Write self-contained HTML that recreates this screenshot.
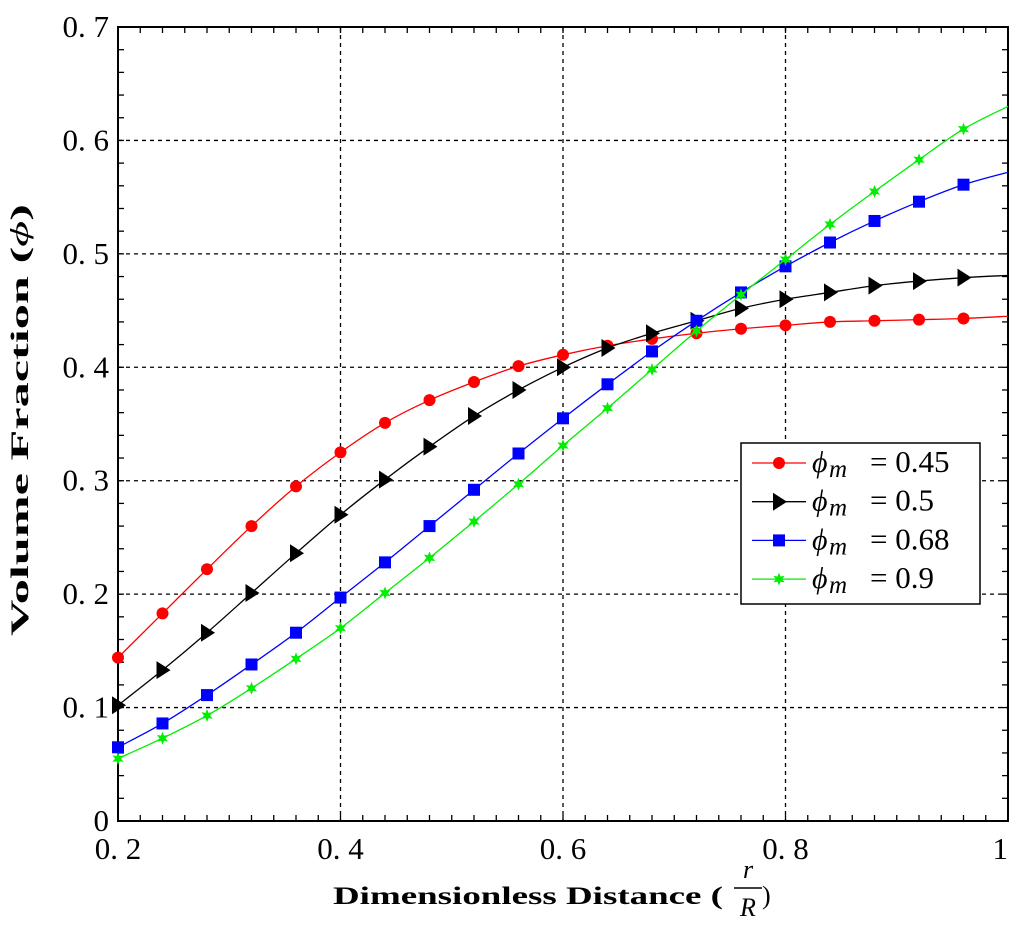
<!DOCTYPE html>
<html><head><meta charset="utf-8"><style>
body{margin:0;background:#fff;}
svg{display:block;font-family:"Liberation Serif",serif;}
</style></head><body>
<svg id="chart" width="1024" height="946" viewBox="0 0 1024 946">
<rect width="1024" height="946" fill="#fff"/>
<g id="grid"></g>
<g id="axes"></g>
<g id="series"></g>
<text x="28" y="420" transform="rotate(-90 28 420)" text-anchor="middle" font-size="25" font-weight="bold" textLength="432" lengthAdjust="spacingAndGlyphs">Volume Fraction (<tspan font-style="italic" font-weight="normal">ϕ</tspan>)</text>
<g>
<text x="333" y="904" font-size="25" font-weight="bold" textLength="390" lengthAdjust="spacingAndGlyphs">Dimensionless Distance (</text>
<text x="748" y="878" font-size="26" font-style="italic" text-anchor="middle">r</text>
<line x1="734" y1="888" x2="762" y2="888" stroke="#000" stroke-width="1.5"/>
<text x="748" y="916" font-size="26" font-style="italic" text-anchor="middle">R</text>
<text x="762" y="904" font-size="26">)</text>
</g>
<g id="legend"></g>
</svg>
<script>
const xTicks=[0.2,0.4,0.6,0.8,1.0];
const xTickLabels=["0. 2","0. 4","0. 6","0. 8","1"];
const yTicks=[0,0.1,0.2,0.3,0.4,0.5,0.6,0.7];
const yTickLabels=["0","0. 1","0. 2","0. 3","0. 4","0. 5","0. 6","0. 7"];
const xValues=[0.2,0.24,0.28,0.32,0.36,0.4,0.44,0.48,0.52,0.56,0.6,0.64,0.68,0.72,0.76,0.8,0.84,0.88,0.92,0.96,1.0];
const seriesNames=["phi-m-0.45","phi-m-0.5","phi-m-0.68","phi-m-0.9"];
const seriesLabels=["0.45","0.5","0.68","0.9"];
const red=[0.144,0.183,0.222,0.260,0.295,0.325,0.351,0.371,0.387,0.401,0.411,0.419,0.425,0.430,0.434,0.437,0.440,0.441,0.442,0.443,0.445];
const black=[0.102,0.133,0.166,0.201,0.236,0.270,0.301,0.330,0.357,0.380,0.400,0.417,0.430,0.441,0.452,0.460,0.466,0.472,0.476,0.479,0.481];
const blue=[0.065,0.086,0.111,0.138,0.166,0.197,0.228,0.260,0.292,0.324,0.355,0.385,0.414,0.441,0.466,0.489,0.510,0.529,0.546,0.561,0.572];
const green=[0.055,0.073,0.093,0.117,0.143,0.170,0.201,0.232,0.264,0.297,0.331,0.364,0.398,0.432,0.464,0.495,0.526,0.555,0.583,0.610,0.630];
const NS="http://www.w3.org/2000/svg";
const L=118,R=1008,T=27,B=821;
const sx=v=>L+(v-0.2)/0.8*(R-L);
const sy=v=>B-v/0.7*(B-T);
function mk(tag,attrs,parent){const e=document.createElementNS(NS,tag);for(const k in attrs)e.setAttribute(k,attrs[k]);parent.appendChild(e);return e;}
const grid=document.getElementById('grid'),axes=document.getElementById('axes'),ser=document.getElementById('series'),leg=document.getElementById('legend');
xTicks.forEach((t,i)=>{const x=sx(t);
 if(i>0&&i<xTicks.length-1){const g=mk('line',{x1:x,y1:T,x2:x,y2:B,stroke:'#000','stroke-width':1.3,'stroke-dasharray':'4,4'},grid);
 
 }
 const tx=mk('text',{x:x,y:B+38,'font-size':31,'text-anchor':i==xTicks.length-1?'end':'middle'},axes);tx.textContent=xTickLabels[i];
 
 
});
yTicks.forEach((t,i)=>{const y=sy(t);
 if(i>0&&i<yTicks.length-1){const g=mk('line',{x1:L,y1:y,x2:R,y2:y,stroke:'#000','stroke-width':1.3,'stroke-dasharray':'4,4'},grid);
 
 }
 const tx=mk('text',{x:L-9,y:y+10,'font-size':31,'text-anchor':'end'},axes);tx.textContent=yTickLabels[i];
 
 
});
for(let v=0.2;v<=1.0001;v+=0.02){const x=sx(v);mk('line',{x1:x,y1:B,x2:x,y2:B-6,stroke:'#000','stroke-width':1.3},axes);mk('line',{x1:x,y1:T,x2:x,y2:T+6,stroke:'#000','stroke-width':1.3},axes);}
for(let v=0;v<=0.7001;v+=0.02){const y=sy(v);mk('line',{x1:L,y1:y,x2:L+6,y2:y,stroke:'#000','stroke-width':1.3},axes);mk('line',{x1:R,y1:y,x2:R-6,y2:y,stroke:'#000','stroke-width':1.3},axes);}
const fr=mk('rect',{x:L,y:T,width:R-L,height:B-T,fill:'none',stroke:'#000','stroke-width':2},axes);


function smooth(pts){let d='M'+pts[0][0]+','+pts[0][1];for(let i=0;i<pts.length-1;i++){const p0=pts[Math.max(i-1,0)],p1=pts[i],p2=pts[i+1],p3=pts[Math.min(i+2,pts.length-1)];
 d+=' C'+(p1[0]+(p2[0]-p0[0])/6)+','+(p1[1]+(p2[1]-p0[1])/6)+' '+(p2[0]-(p3[0]-p1[0])/6)+','+(p2[1]-(p3[1]-p1[1])/6)+' '+p2[0]+','+p2[1];}return d;}
function marker(type,x,y,color,parent){
 if(type=='circle')return mk('circle',{cx:x,cy:y,r:6,fill:color},parent);
 if(type=='tri')return mk('polygon',{points:(x-6)+','+(y-9)+' '+(x+8)+','+y+' '+(x-6)+','+(y+9),fill:color},parent);
 if(type=='square')return mk('rect',{x:x-6,y:y-6,width:12,height:12,fill:color},parent);
 let p='';for(let k=0;k<12;k++){const r=k%2?3:6.5,a=k*Math.PI/6-Math.PI/2;p+=(x+r*Math.cos(a))+','+(y+r*Math.sin(a))+' ';}
 return mk('polygon',{points:p,fill:color},parent);}
const all=[red,black,blue,green],colors=['#ff0000','#000000','#0000ff','#00ee00'],types=['circle','tri','square','star'];
all.forEach((vals,si)=>{const g=mk('g',{},ser);
 
 
 const pts=vals.map((v,i)=>[sx(xValues[i]),sy(v)]);
 mk('path',{d:smooth(pts),fill:'none',stroke:colors[si],'stroke-width':1.3},g);
 for(let i=0;i<pts.length-1;i++){const m=marker(types[si],pts[i][0],pts[i][1],colors[si],g);
  
  }
});
mk('rect',{x:741,y:443,width:239,height:161,fill:'#fff',stroke:'#000','stroke-width':1.5},leg);
seriesLabels.forEach((lab,i)=>{const y=463+i*38.7;const g=mk('g',{},leg);
 
 
 mk('line',{x1:752,y1:y,x2:806,y2:y,stroke:colors[i],'stroke-width':1.3},g);
 marker(types[i],779,y,colors[i],g);
 const t1=mk('text',{x:812,y:y+9,'font-size':30,'font-style':'italic'},g);t1.textContent='ϕ';
 const t2=mk('text',{x:829,y:y+14,'font-size':25,'font-style':'italic'},g);t2.textContent='m';
 const t3=mk('text',{x:870,y:y+9,'font-size':31},g);t3.textContent='= '+lab;
});
</script>
</body></html>
